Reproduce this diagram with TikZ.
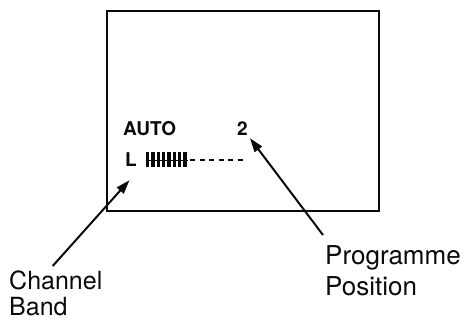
\documentclass[tikz,border=0pt]{standalone}
\usepackage{fontspec}
\setmainfont{TeX Gyre Heros}
\usepackage{tikz}
\usetikzlibrary{arrows.meta, positioning, calc}
\definecolor{ScreenInk}{RGB}{10, 10, 10}

\tikzset{
  osdtext/.style={font=\fontsize{19}{22}\selectfont\bfseries, text=ScreenInk, inner sep=0pt, anchor=base west},
  calltext/.style={font=\fontsize{26}{31}\selectfont, text=ScreenInk, inner sep=0pt, align=left, anchor=north west},
  pointer/.style={draw=ScreenInk, line width=2pt, -{Triangle[length=14pt, width=9pt]}}
}

\begin{document}
\begin{tikzpicture}[x=1pt, y=-1pt]
    \useasboundingbox (0,0) rectangle (466,321);
    % screen frame
    \node[draw=ScreenInk, line width=2.2pt, minimum width=272pt, minimum height=200pt, inner sep=0pt] (screen) at (243,111) {};
    % on-screen display
    \node[osdtext] (auto) at (123,135) {AUTO};
    \node[osdtext] (posnum) at (237,135) {2};
    \node[osdtext] (band) at (125,166) {L};
    \foreach \i in {0,...,7}
      \fill[ScreenInk] (146+\i*5.3,152) rectangle ++(3.4,15);
    \draw[ScreenInk, line width=1pt] (146,160) -- (188,160);
    \draw[ScreenInk, line width=2.2pt, dash pattern=on 5pt off 4.5pt] (190,160) -- (245,160);
    % callouts
    \node[calltext, font=\fontsize{25}{26}\selectfont] (chlabel) at (9,271) {Channel\\Band};
    \node[calltext] (prlabel) at (325,245) {Programme\\Position};
    \draw[pointer] ([xshift=43.7pt, yshift=5pt]chlabel.north west) -- ([xshift=-1.5pt, yshift=-14pt]band.south);
    \draw[pointer] ([xshift=-2pt, yshift=10pt]prlabel.north west) -- ([xshift=2pt, yshift=-3pt]posnum.south east);
  \end{tikzpicture}
\end{document}
